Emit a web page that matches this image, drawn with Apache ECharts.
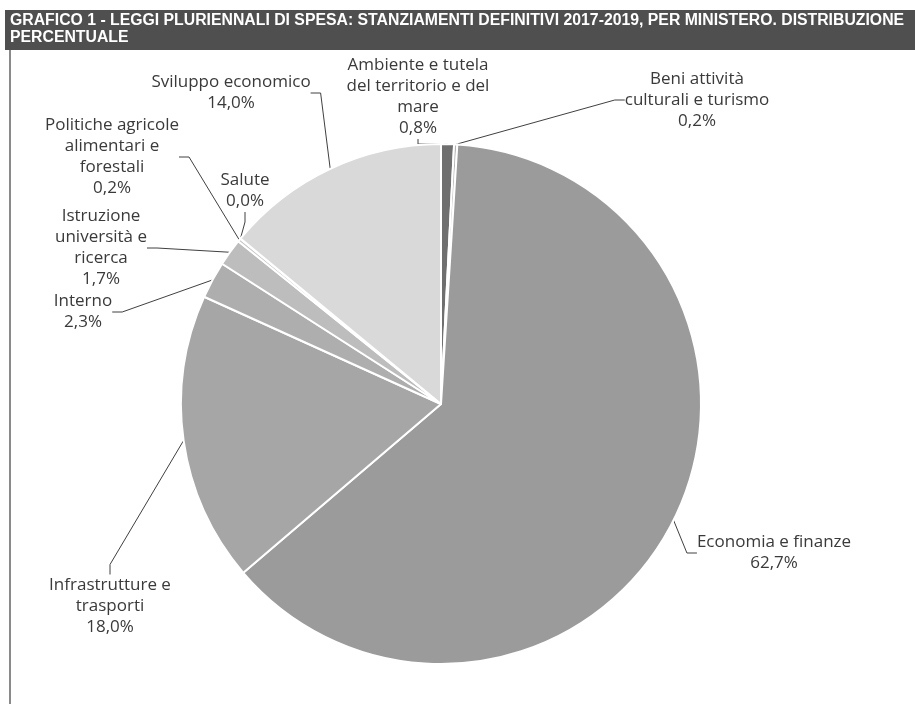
<!DOCTYPE html>
<html><head><meta charset="utf-8">
<script src="https://cdn.jsdelivr.net/npm/echarts@6/dist/echarts.min.js"></script>
<style>html,body{margin:0;padding:0;background:#fff}#chart{width:915px;height:704px}</style>
</head><body><div id="chart"></div>
<script>
const chartTitle = 'GRAFICO 1 - LEGGI PLURIENNALI DI SPESA: STANZIAMENTI DEFINITIVI 2017-2019, PER MINISTERO. DISTRIBUZIONE\nPERCENTUALE';
const categories = [
  'Ambiente e tutela\ndel territorio e del\nmare',
  'Beni attività\nculturali e turismo',
  'Economia e finanze',
  'Infrastrutture e\ntrasporti',
  'Interno',
  'Istruzione\nuniversità e\nricerca',
  'Politiche agricole\nalimentari e\nforestali',
  'Salute',
  'Sviluppo economico'
];
// Salute is shown as 0,0% (a value below 0,05%)
const shares = [0.8, 0.2, 62.7, 18.0, 2.3, 1.7, 0.2, 0.02, 14.0];

// styling / layout (not data)
const sliceColors = ['#6f6f6f', '#b4b4b4', '#9b9b9b', '#a6a6a6', '#aeaeae', '#bdbdbd', '#c7c7c7', '#d0d0d0', '#d9d9d9'];
const labelAnchors = [[418, 97], [697, 100], [774, 553], [110, 606], [83, 312], [101, 248], [112, 157], [245, 191], [231, 93]];

const chart = echarts.init(document.getElementById('chart'), null, {renderer: 'canvas'});
chart.setOption({
  backgroundColor: '#ffffff',
  animation: false,
  graphic: [
    {type: 'rect', z: 0, shape: {x: 5, y: 10, width: 910, height: 40}, style: {fill: '#4f4f4f'}},
    {type: 'line', z: 0, shape: {x1: 10, y1: 50, x2: 10, y2: 704}, style: {stroke: '#8a8a8a', lineWidth: 2}},
    {type: 'text', z: 5, left: 10, top: 12, style: {text: chartTitle, fill: '#ffffff', font: 'bold 15.8px "Liberation Sans", Arial, sans-serif', lineHeight: 17}}
  ],
  series: [{
    type: 'pie',
    center: [441, 404],
    radius: 260,
    startAngle: 90,
    clockwise: true,
    avoidLabelOverlap: false,
    itemStyle: {borderColor: '#ffffff', borderWidth: 2},
    label: {
      show: true,
      position: 'outside',
      color: '#3a3a3a',
      fontFamily: '"Open Sans", sans-serif',
      fontSize: 17,
      lineHeight: 21,
      align: 'center',
      formatter: p => p.name + '\n' + p.value.toFixed(1).replace('.', ',') + '%'
    },
    labelLine: {show: true, length: 10, length2: 10, lineStyle: {color: '#404040', width: 1}},
    labelLayout: p => {
      const a = labelAnchors[p.dataIndex];
      return {x: a[0], y: a[1], align: 'center'};
    },
    data: categories.map((c, i) => ({name: c, value: shares[i], itemStyle: {color: sliceColors[i]}}))
  }]
});
</script>
</body></html>
